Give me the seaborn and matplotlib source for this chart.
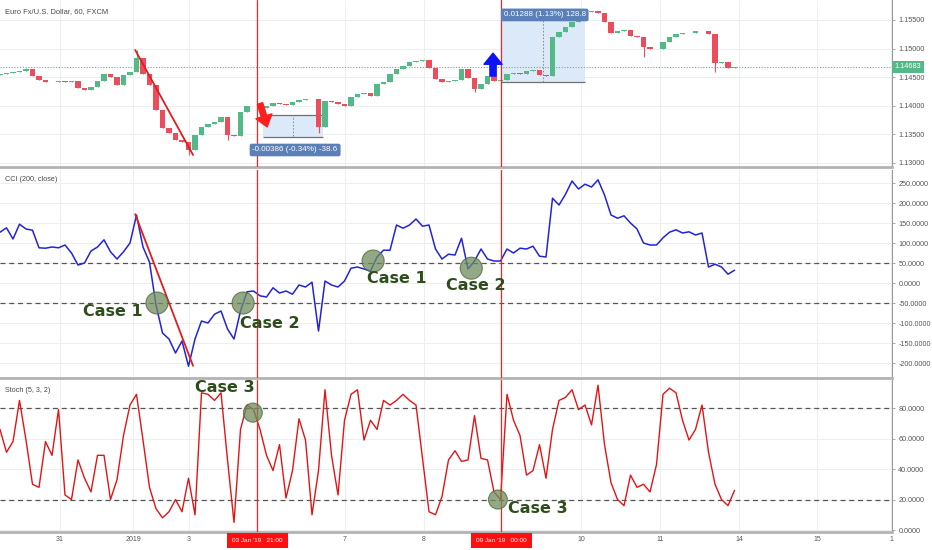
import numpy as np
import pandas as pd
import matplotlib
matplotlib.use("Agg")
import matplotlib.pyplot as plt
import matplotlib.transforms as mtransforms
from matplotlib.patches import Ellipse, Rectangle
import seaborn as sns

# EUR/USD 60 min (FXCM), every second bar
close = [1.14556, 1.14573, 1.14591, 1.14608, 1.14643, 1.14521, 1.14451, 1.14416, 1.14416, 1.14433,
         1.14416, 1.14433, 1.14311, 1.14276, 1.14328, 1.14433, 1.14556, 1.14503, 1.14363, 1.14538,
         1.14591, 1.14835, 1.14556, 1.14363, 1.13926, 1.13612, 1.13524, 1.13402, 1.13367, 1.13227,
         1.13489, 1.13629, 1.13682, 1.13717, 1.13804, 1.13489, 1.13472, 1.13891, 1.13996, 1.13996,
         1.13961, 1.13996, 1.14049, 1.14031, 1.14014, 1.14066, 1.14101, 1.14119, 1.14119, 1.13629,
         1.14084, 1.14066, 1.14031, 1.13996, 1.14154, 1.14206, 1.14224, 1.14171, 1.14381, 1.14416,
         1.14556, 1.14643, 1.14696, 1.14765, 1.14783, 1.14800, 1.14661, 1.14468, 1.14416, 1.14433,
         1.14451, 1.14643, 1.14486, 1.14294, 1.14381, 1.14521, 1.14433, 1.14451, 1.14556, 1.14573,
         1.14556, 1.14608, 1.14626, 1.14538, 1.14521, 1.15202, 1.15290, 1.15377, 1.15465, 1.15570,
         1.15640, 1.15657, 1.15622, 1.15465, 1.15272, 1.15307, 1.15325, 1.15220, 1.15202, 1.15028,
         1.14993, 1.14993, 1.15115, 1.15202, 1.15255, 1.15272, 1.15272, 1.15307, 1.15307, 1.15255,
         1.14748, 1.14765, 1.14661, 1.14683]
first_open = 1.14538
# bars whose wick sticks out visibly: bar -> (high, low)
wicks = {4: (1.14661, None), 21: (1.14975, None), 29: (None, 1.13140), 35: (None, 1.13402),
         49: (None, 1.13524), 73: (None, 1.14241), 99: (None, 1.14853), 110: (None, 1.14591)}

cci = [127, 138, 110, 147, 135, 132, 88, 87, 90, 88,
       95, 75, 45, 50, 80, 90, 108, 78, 60, 78,
       100, 170, 90, 52, -55, -125, -140, -175, -145, -208,
       -140, -95, -100, -78, -70, -115, -140, -70, -22, -20,
       -32, -35, -12, -25, -20, -28, -5, -10, 2, -120,
       5, -5, -10, 5, 37, 40, 35, 30, 65, 82,
       82, 145, 137, 145, 160, 142, 145, 85, 60, 72,
       70, 112, 35, 55, 85, 60, 55, 55, 85, 75,
       87, 85, 92, 67, 65, 212, 195, 222, 255, 235,
       247, 240, 258, 220, 170, 162, 168, 150, 135, 100,
       95, 95, 113, 127, 133, 125, 128, 120, 125, 40,
       47, 40, 22, 32]

stoch = [66, 51, 58, 85, 59, 30, 28, 58, 49, 79,
         23, 20, 46, 34, 25, 49, 49, 20, 33, 62,
         82, 89, 59, 28, 14, 8, 12, 20, 12, 34,
         10, 90, 89, 85, 90, 46, 5, 66, 82, 79,
         66, 49, 39, 56, 21, 39, 73, 59, 10, 39,
         92, 49, 23, 72, 89, 92, 59, 72, 66, 85,
         82, 85, 89, 85, 82, 47, 12, 10, 22, 46,
         52, 45, 46, 75, 47, 46, 25, 20, 89, 72,
         62, 36, 39, 56, 34, 66, 85, 87, 92, 79,
         82, 69, 95, 56, 31, 20, 16, 36, 28, 30,
         25, 43, 89, 93, 90, 72, 59, 66, 82, 51,
         30, 20, 16, 26]

day_labels = ['31', '2019', '3', '7', '8', '10', '11', '14', '15', '1']
day_bars = [9.23, 20.46, 29.08, 53.08, 65.23, 89.38, 101.5, 113.7, 125.7, 137.1]
marker_labels = ["03 Jan '19   21:00", "09 Jan '19   00:00"]
marker_bars = [39.55, 77.1]
last_price = 1.14683
price_ticks = [1.130, 1.135, 1.140, 1.145, 1.150, 1.155]
cci_ticks = [-200, -150, -100, -50, 0, 50, 100, 150, 200, 250]
stoch_ticks = [0, 20, 40, 60, 80]

GREEN = '#53b987'
RED = '#eb4d5c'
CASE = '#2f4c1c'

sns.set_theme(style="white")
plt.rcParams['font.family'] = ['Liberation Sans', 'DejaVu Sans']

fig = plt.figure(figsize=(9.32, 5.5), dpi=100)
ax_p = fig.add_axes([0, 0.6964, 0.9571, 0.3036])
ax_c = fig.add_axes([0, 0.3127, 0.9571, 0.3782], sharex=ax_p)
ax_s = fig.add_axes([0, 0.0327, 0.9571, 0.2764], sharex=ax_p)

# ---- candles
bars = pd.DataFrame({'bar': np.arange(len(close)), 'close': close})
bars['open'] = bars['close'].shift(1).fillna(first_open)
bars['high'] = bars[['open', 'close']].max(axis=1)
bars['low'] = bars[['open', 'close']].min(axis=1)
for k, (h, l) in wicks.items():
    if h is not None:
        bars.loc[k, 'high'] = h
    if l is not None:
        bars.loc[k, 'low'] = l
col = np.where(bars['close'] >= bars['open'], GREEN, RED)
ax_p.vlines(bars['bar'], bars['low'], bars['high'], colors=col, lw=0.8, zorder=3)
ax_p.bar(bars['bar'], (bars['close'] - bars['open']).abs().clip(lower=0.00005),
         bottom=bars[['open', 'close']].min(axis=1), width=0.8, color=col, lw=0, zorder=4)
ax_p.axhline(last_price, color=GREEN, lw=0.8, ls=(0, (1, 1.5)), zorder=2)

# ---- indicators
sns.lineplot(x=np.arange(len(cci)), y=cci, ax=ax_c, color='#2323dc', lw=1.1, zorder=4)
sns.lineplot(x=np.arange(len(stoch)), y=stoch, ax=ax_s, color='#e31414', lw=1.0, zorder=4)
for v in (50, -50):
    ax_c.axhline(v, color='#555555', lw=0.9, ls=(0, (4, 3)), zorder=3)
for v in (80, 20):
    ax_s.axhline(v, color='#555555', lw=0.9, ls=(0, (4, 3)), zorder=3)

# ---- axes look
panels = [(ax_p, (1.12930, 1.15849), price_ticks, '{:.5f}'),
          (ax_c, (-237.5, 282.5), cci_ticks, '{:.4f}'),
          (ax_s, (-1.3, 98.4), stoch_ticks, '{:.4f}')]
for ax, lim, ticks, fmt in panels:
    ax.set_xlim(0, 137.23)
    ax.set_ylim(*lim)
    ax.set_yticks(ticks)
    ax.set_yticklabels([fmt.format(t) for t in ticks])
    ax.yaxis.tick_right()
    ax.tick_params(axis='y', labelsize=5.2, labelcolor='#555555', length=2.5,
                   color='#999999', width=0.6, pad=2)
    ax.set_xticks(day_bars)
    ax.tick_params(axis='x', length=0)
    ax.grid(True, color='#eceff2', lw=0.7)
    ax.set_axisbelow(True)
    ax.set_xlabel('')
    ax.set_ylabel('')
    ax.set_facecolor('white')
    ax.spines['top'].set_visible(False)
    ax.spines['left'].set_visible(False)
    ax.spines['right'].set_color('#9a9a9a')
    ax.spines['right'].set_linewidth(0.8)
    ax.spines['bottom'].set_color('#b3b3b3')
    ax.spines['bottom'].set_linewidth(2)
    for b in marker_bars:
        ax.axvline(b, color='#ff2020', lw=0.9, zorder=6)

ax_p.tick_params(axis='x', labelbottom=False)
ax_c.tick_params(axis='x', labelbottom=False)
ax_s.set_xticklabels(day_labels)
ax_s.tick_params(axis='x', labelsize=5, labelcolor='#555555', pad=3)

for b, lab in zip(marker_bars, marker_labels):
    ax_s.annotate(lab, xy=(b, 0), xycoords=('data', 'axes fraction'), xytext=(0, -6),
                  textcoords='offset points', ha='center', va='center', fontsize=4.6,
                  color='white', annotation_clip=False, zorder=12,
                  bbox=dict(boxstyle='square,pad=0.8', fc='#ff1010', ec='none'))

trans = mtransforms.blended_transform_factory(ax_p.transAxes, ax_p.transData)
ax_p.text(1.003, last_price, f'{last_price:.5f}', transform=trans, ha='left', va='center',
          fontsize=5.2, color='white', zorder=10, clip_on=False,
          bbox=dict(boxstyle='square,pad=0.35', fc=GREEN, ec='none'))

ax_p.text(0.0056, 0.93, 'Euro Fx/U.S. Dollar, 60, FXCM', transform=ax_p.transAxes,
          fontsize=5.4, color='#4a4a4a', va='center')
ax_c.text(0.0056, 0.952, 'CCI (200, close)', transform=ax_c.transAxes,
          fontsize=5.2, color='#4a4a4a', va='center')
ax_s.text(0.0056, 0.934, 'Stoch (5, 3, 2)', transform=ax_s.transAxes,
          fontsize=5.2, color='#4a4a4a', va='center')

# ---- drawings on the price pane
ax_p.plot([20.8, 29.7], [1.14975, 1.13140], color='#e31b1b', lw=1.3, zorder=7)
ax_c.plot([20.8, 29.7], [172, -207], color='#e31b1b', lw=1.3, zorder=7)

ax_p.add_patch(Rectangle((40.5, 1.13454), 9.2, 0.00385, fc='#dce9f9', ec='none', zorder=1))
ax_p.hlines([1.13839, 1.13454], 40.5, 49.7, color='#707070', lw=0.9, zorder=2)
ax_p.vlines(45.1, 1.13470, 1.13839, color='#808080', lw=0.6, ls=(0, (2, 2)), zorder=2)
ax_p.text(45.4, 1.13227, '-0.00386 (-0.34%) -38.6', ha='center', va='center', fontsize=5.8,
          color='white', zorder=10,
          bbox=dict(boxstyle='round,pad=0.35,rounding_size=0.25', fc='#5b80b8', ec='none'))

ax_p.add_patch(Rectangle((77.1, 1.14416), 12.9, 0.01288, fc='#dce9f9', ec='none', zorder=1))
ax_p.hlines(1.14416, 77.1, 90.0, color='#707070', lw=0.9, zorder=2)
ax_p.vlines(83.6, 1.14416, 1.15600, color='#808080', lw=0.6, ls=(0, (2, 2)), zorder=2)
ax_p.text(83.8, 1.15587, '0.01288 (1.13%) 128.8', ha='center', va='center', fontsize=5.8,
          color='white', zorder=10,
          bbox=dict(boxstyle='round,pad=0.35,rounding_size=0.25', fc='#5b80b8', ec='none'))

ax_p.annotate('', xy=(41.1, 1.13630), xytext=(40.0, 1.14040), zorder=9,
              arrowprops=dict(facecolor='#ff1f1f', edgecolor='#ff1f1f', width=4,
                              headwidth=12, headlength=8))
ax_p.annotate('', xy=(75.85, 1.14920), xytext=(75.85, 1.14520), zorder=9,
              arrowprops=dict(facecolor='#0d13f5', edgecolor='#0d13f5', width=4.5,
                              headwidth=13, headlength=8))

# ---- case markers
case_kw = dict(fontsize=11.5, fontweight='bold', color=CASE, family='DejaVu Sans',
               ha='center', va='center', zorder=12, clip_on=False)
circ_kw = dict(fc='#6f8c5e', ec='#4a6638', alpha=0.75, lw=0.8, zorder=11)

for (x, y) in [(24.15, -50), (37.4, -50), (57.4, 55), (72.5, 37)]:
    ax_c.add_patch(Ellipse((x, y), 3.4, 55, **circ_kw))
ax_c.text(17.4, -72, 'Case 1', **case_kw)
ax_c.text(41.5, -100, 'Case 2', **case_kw)
ax_c.text(61.1, 12, 'Case 1', **case_kw)
ax_c.text(73.2, -5, 'Case 2', **case_kw)

for (x, y) in [(38.9, 77), (76.6, 20)]:
    ax_s.add_patch(Ellipse((x, y), 2.9, 12.5, **circ_kw))
ax_s.text(34.6, 93.8, 'Case 3', **case_kw)
ax_s.text(82.8, 13.8, 'Case 3', **case_kw)

fig.savefig('out.png', dpi=100, facecolor='white')
